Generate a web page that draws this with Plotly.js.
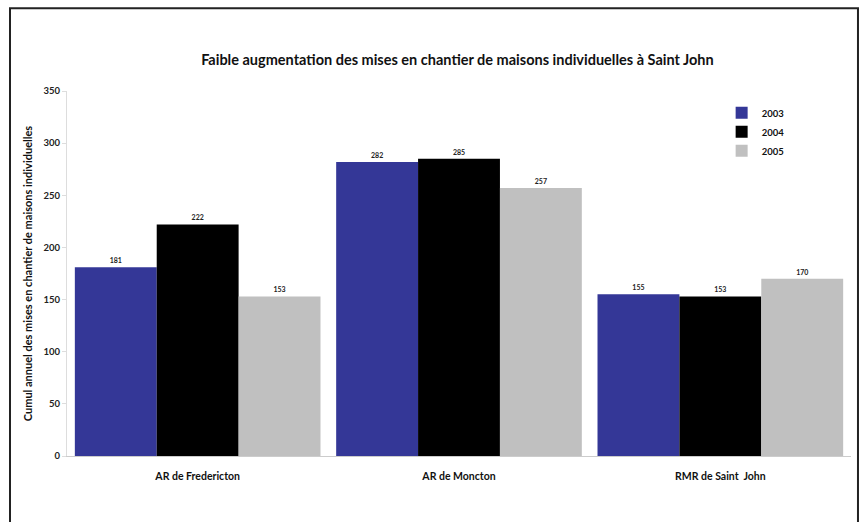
<!DOCTYPE html>
<html><head><meta charset="utf-8">
<script src="https://cdn.plot.ly/plotly-3.0.1.min.js"></script>
<style>body{margin:0;background:#fff}#chart{width:861px;height:522px}</style>
</head><body><div id="chart"></div>
<script>
const categories = ["AR de Fredericton", "AR de Moncton", "RMR de Saint  John"];
const years = ["2003", "2004", "2005"];
const values2003 = [181, 282, 155];
const values2004 = [222, 285, 153];
const values2005 = [153, 257, 170];
const colors = ["#343797", "#000000", "#c0c0c0"];
const series = [values2003, values2004, values2005];

const font = "Lato, 'Open Sans', sans-serif";
const traces = series.map((v, i) => ({
  type: "bar", name: years[i], x: categories, y: v,
  marker: {color: colors[i]},
  text: v.map(String), textposition: "outside", cliponaxis: false,
  textfont: {family: font, size: 7, color: "#222", weight: "bold"}
}));

const layout = {
  width: 861, height: 522,
  margin: {l: 67, r: 10, t: 91, b: 66},
  paper_bgcolor: "#fff", plot_bgcolor: "#fff",
  barmode: "group", bargap: 0.06, bargroupgap: 0,
  title: {text: "<b>Faible augmentation des mises en chantier de maisons individuelles à Saint John</b>",
    font: {family: font, size: 14.5, color: "#111"}, x: 0.498, xref: "paper", y: 0.885, yanchor: "middle"},
  xaxis: {showline: true, linecolor: "#ccc", ticks: "", ticklabelstandoff: 10,
    tickfont: {family: font, size: 10.5, color: "#111", weight: "bold"}, showgrid: false},
  yaxis: {range: [0, 350], dtick: 50, showgrid: false, showline: true, linecolor: "#ddd",
    ticks: "outside", ticklen: 4, tickcolor: "#ddd",
    tickfont: {family: font, size: 9.5, color: "#222", weight: "bold"},
    title: {text: "<b>Cumul annuel des mises en chantier de maisons individuelles</b>",
      font: {family: font, size: 11, color: "#111"}, standoff: 8}},
  legend: {x: 0.835, y: 0.98, xanchor: "left", yanchor: "top",
    font: {family: font, size: 9.5, color: "#111", weight: "bold"},
    itemwidth: 30, tracegroupgap: 0, bgcolor: "rgba(0,0,0,0)"},
  shapes: [{type: "rect", xref: "paper", yref: "paper",
    x0: -0.0727, x1: 1.0089, y0: -0.21, y1: 1.227,
    line: {color: "#222", width: 2}, fillcolor: "rgba(0,0,0,0)"}]
};
Plotly.newPlot("chart", traces, layout, {displayModeBar: false, staticPlot: true});
</script></body></html>
